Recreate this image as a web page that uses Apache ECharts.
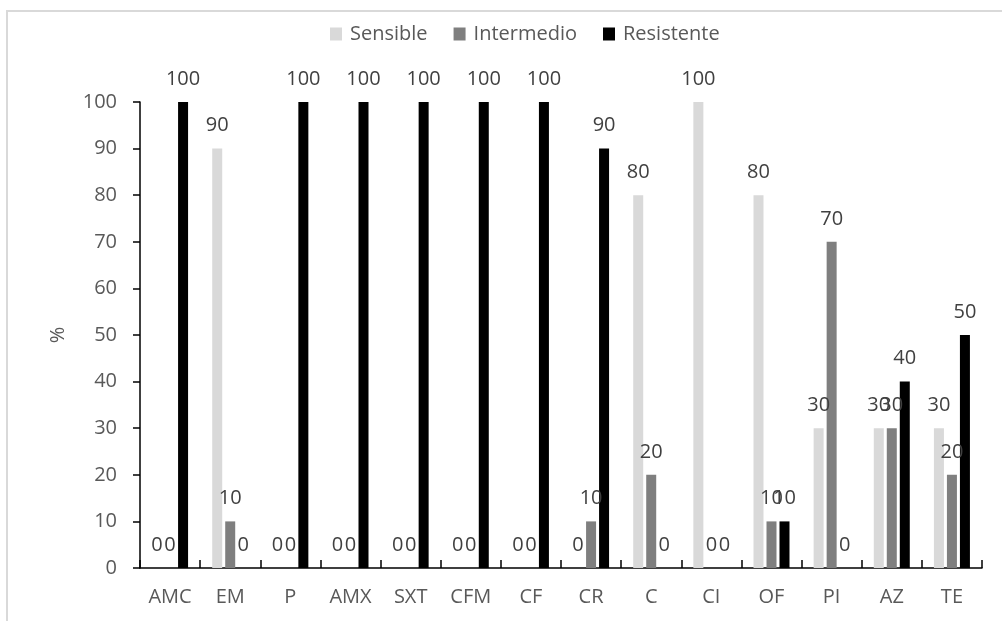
<!DOCTYPE html>
<html>
<head>
<meta charset="utf-8">
<script src="https://cdn.jsdelivr.net/npm/echarts@6/dist/echarts.min.js"></script>
<style>
  html, body { margin: 0; padding: 0; background: #ffffff; }
  #chart { width: 1002px; height: 621px; }
</style>
</head>
<body>
<div id="chart"></div>
<script>
// Antibiotic susceptibility profile (% of isolates)
const categories = ['AMC', 'EM', 'P', 'AMX', 'SXT', 'CFM', 'CF', 'CR', 'C', 'CI', 'OF', 'PI', 'AZ', 'TE'];
const sensible   = [0, 90, 0, 0, 0, 0, 0, 0, 80, 100, 80, 30, 30, 30];
const intermedio = [0, 10, 0, 0, 0, 0, 0, 10, 20, 0, 10, 70, 30, 20];
const resistente = [100, 0, 100, 100, 100, 100, 100, 90, 0, 0, 10, 0, 40, 50];
const yTicks = [0, 10, 20, 30, 40, 50, 60, 70, 80, 90, 100];

const FONT = '"Open Sans", "Noto Sans", sans-serif';
const AXIS_TEXT = '#595959';
const LABEL_TEXT = '#404040';

function barSeries(name, data, color) {
  return {
    name: name,
    type: 'bar',
    data: data,
    barWidth: 10,
    barGap: '30%',
    itemStyle: { color: color },
    label: {
      show: true,
      position: 'top',
      distance: 13,
      color: LABEL_TEXT,
      fontFamily: FONT,
      fontSize: 20
    },
    emphasis: { disabled: true }
  };
}

const chart = echarts.init(document.getElementById('chart'), null, { renderer: 'canvas' });
chart.setOption({
  animation: false,
  backgroundColor: '#ffffff',
  graphic: [{
    type: 'rect',
    shape: { x: 7, y: 11, width: 1100, height: 700 },
    style: { fill: 'none', stroke: '#d9d9d9', lineWidth: 2 },
    silent: true
  }],
  legend: {
    left: 325,
    top: 19,
    itemWidth: 12,
    itemHeight: 13,
    itemGap: 26,
    icon: 'rect',
    textStyle: { color: AXIS_TEXT, fontFamily: FONT, fontSize: 20, padding: [0, 0, 0, 3] },
    data: ['Sensible', 'Intermedio', 'Resistente']
  },
  grid: { left: 140, right: 20, top: 102, bottom: 53, containLabel: false },
  xAxis: {
    type: 'category',
    data: categories,
    axisLine: { lineStyle: { color: '#000000', width: 1.5 } },
    axisTick: { show: true, inside: true, length: 8, lineStyle: { color: '#000000', width: 1.5 } },
    axisLabel: { color: AXIS_TEXT, fontFamily: FONT, fontSize: 20, margin: 19, interval: 0 }
  },
  yAxis: {
    type: 'value',
    min: yTicks[0],
    max: yTicks[yTicks.length - 1],
    interval: yTicks[1] - yTicks[0],
    name: '%',
    nameLocation: 'middle',
    nameRotate: 90,
    nameGap: 72,
    nameTextStyle: { color: AXIS_TEXT, fontFamily: FONT, fontSize: 20 },
    axisLine: { show: true, lineStyle: { color: '#000000', width: 1.5 } },
    axisTick: { show: true, inside: false, length: 7, lineStyle: { color: '#000000', width: 1.5 } },
    axisLabel: { color: AXIS_TEXT, fontFamily: FONT, fontSize: 20, margin: 23 },
    splitLine: { show: false }
  },
  series: [
    barSeries('Sensible', sensible, '#d9d9d9'),
    barSeries('Intermedio', intermedio, '#7f7f7f'),
    barSeries('Resistente', resistente, '#000000')
  ]
});
</script>
</body>
</html>
